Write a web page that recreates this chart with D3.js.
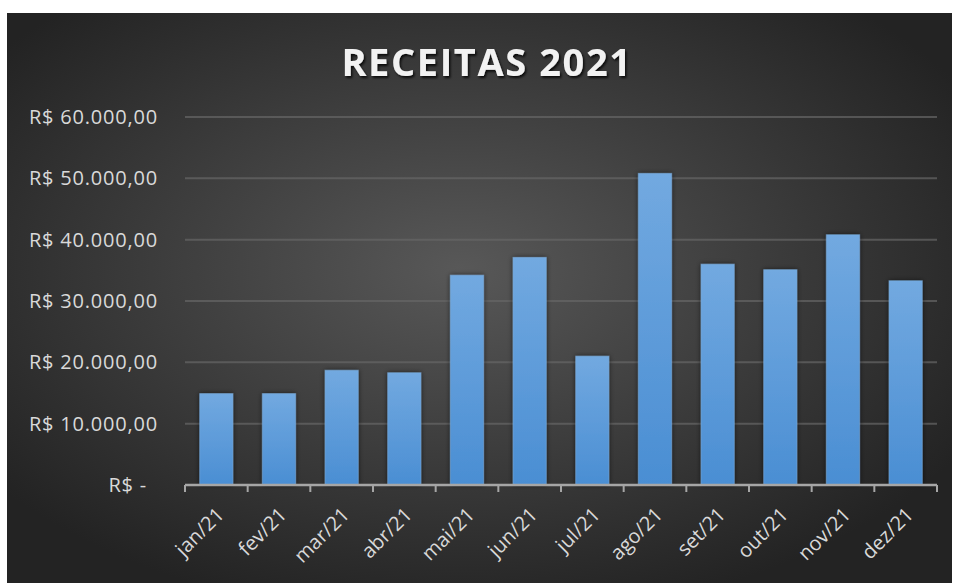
<!DOCTYPE html>
<html>
<head>
<meta charset="utf-8">
<script src="https://cdn.jsdelivr.net/npm/d3@7"></script>
<style>
  body { margin: 0; background: #fff; }
  svg { display: block; }
</style>
</head>
<body>
<svg id="chart" width="954" height="583"></svg>
<script>
// dados
const meses = ["jan/21", "fev/21", "mar/21", "abr/21", "mai/21", "jun/21",
               "jul/21", "ago/21", "set/21", "out/21", "nov/21", "dez/21"];
const receitas = [14900, 14900, 18700, 18300, 34200, 37100,
                  21000, 50800, 36000, 35100, 40800, 33300];
const yTicks = [0, 10000, 20000, 30000, 40000, 50000, 60000];
const titulo = "RECEITAS 2021";

const svg = d3.select("#chart");
const defs = svg.append("defs");

// fundo com gradiente radial
const bg = defs.append("radialGradient")
    .attr("id", "bg")
    .attr("cx", "48%").attr("cy", "45%").attr("r", "62%");
bg.append("stop").attr("offset", "0%").attr("stop-color", "#585858");
bg.append("stop").attr("offset", "100%").attr("stop-color", "#232323");

const barGrad = defs.append("linearGradient")
    .attr("id", "barGrad")
    .attr("x1", 0).attr("y1", 0).attr("x2", 0).attr("y2", 1);
barGrad.append("stop").attr("offset", "0%").attr("stop-color", "#72a9e0");
barGrad.append("stop").attr("offset", "100%").attr("stop-color", "#4a8ed3");

const shadow = defs.append("filter").attr("id", "shadow")
    .attr("x", "-30%").attr("y", "-10%").attr("width", "160%").attr("height", "120%");
shadow.append("feDropShadow")
    .attr("dx", 0).attr("dy", 0).attr("stdDeviation", 2.5)
    .attr("flood-color", "#000").attr("flood-opacity", 0.6);

const titleShadow = defs.append("filter").attr("id", "titleShadow");
titleShadow.append("feDropShadow")
    .attr("dx", 1.5).attr("dy", 2).attr("stdDeviation", 1)
    .attr("flood-color", "#000").attr("flood-opacity", 0.8);

svg.append("rect")
    .attr("x", 7).attr("y", 13)
    .attr("width", 945).attr("height", 570)
    .attr("fill", "url(#bg)");

const margin = { left: 185, right: 937, top: 117, bottom: 485 };

const x = d3.scaleBand()
    .domain(meses)
    .range([margin.left, margin.right])
    .paddingInner(0.47)
    .paddingOuter(0.235);

const y = d3.scaleLinear()
    .domain([0, 60000])
    .range([margin.bottom, margin.top]);

// título
svg.append("text")
    .attr("x", 487)
    .attr("y", 76)
    .attr("text-anchor", "middle")
    .attr("font-family", "Open Sans")
    .attr("font-weight", "bold")
    .attr("font-size", 38)
    .attr("letter-spacing", 1.6)
    .attr("fill", "#f2f2f2")
    .attr("filter", "url(#titleShadow)")
    .text(titulo);

// linhas de grade
svg.append("g")
    .selectAll("line")
    .data(yTicks.slice(1))
    .enter()
    .append("line")
    .attr("x1", margin.left)
    .attr("x2", margin.right)
    .attr("y1", d => y(d))
    .attr("y2", d => y(d))
    .attr("stroke", "#666")
    .attr("stroke-opacity", 0.7)
    .attr("stroke-width", 2);

// eixo y
const fmt = d => d === 0 ? "R$ -" : "R$ " + d3.format(",.2f")(d).replace(/,/g, "#").replace(".", ",").replace(/#/g, ".");
const yAxis = svg.append("g")
    .attr("transform", `translate(${margin.left - 27},0)`)
    .call(d3.axisLeft(y).tickValues(yTicks).tickSize(0).tickPadding(0).tickFormat(fmt));
yAxis.select(".domain").remove();
yAxis.selectAll("text")
    .attr("font-family", "Open Sans")
    .attr("font-size", 20)
    .attr("letter-spacing", 0.8)
    .attr("fill", "#d9d9d9")
    .attr("dx", d => d === 0 ? -11 : 0);

// barras
svg.append("g")
    .selectAll("rect")
    .data(receitas)
    .enter()
    .append("rect")
    .attr("x", (d, i) => x(meses[i]))
    .attr("y", d => y(d))
    .attr("width", x.bandwidth())
    .attr("height", d => y(0) - y(d))
    .attr("fill", "url(#barGrad)")
    .attr("stroke", "#7fb3e6")
    .attr("stroke-opacity", 0.5)
    .attr("stroke-width", 1)
    .attr("filter", "url(#shadow)");

// eixo x
const bounds = d3.range(meses.length + 1).map(i => margin.left + i * (margin.right - margin.left) / meses.length);
const xg = svg.append("g");
xg.append("line")
    .attr("x1", margin.left).attr("x2", margin.right)
    .attr("y1", margin.bottom).attr("y2", margin.bottom)
    .attr("stroke", "#a6a6a6").attr("stroke-width", 2.5);
xg.selectAll("line.tick")
    .data(bounds)
    .enter()
    .append("line")
    .attr("class", "tick")
    .attr("x1", d => d).attr("x2", d => d)
    .attr("y1", margin.bottom).attr("y2", margin.bottom + 7)
    .attr("stroke", "#a6a6a6").attr("stroke-width", 2);

xg.selectAll("text")
    .data(meses)
    .enter()
    .append("text")
    .attr("transform", d => `translate(${x(d) + x.bandwidth() / 2 + 4},${margin.bottom + 26}) rotate(-45)`)
    .attr("text-anchor", "end")
    .attr("dy", "0.35em")
    .attr("font-family", "Open Sans")
    .attr("font-size", 20)
    .attr("fill", "#d9d9d9")
    .text(d => d);
</script>
</body>
</html>
